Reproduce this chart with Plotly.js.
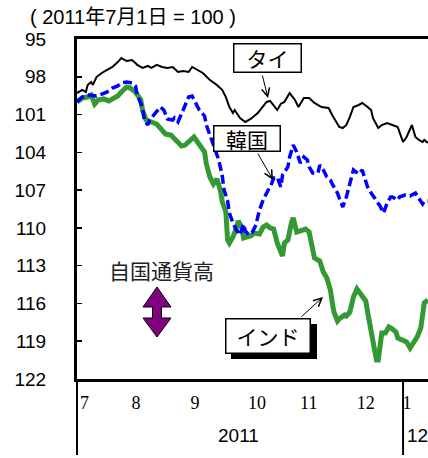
<!DOCTYPE html>
<html>
<head>
<meta charset="utf-8">
<script src="https://cdn.plot.ly/plotly-3.0.1.min.js"></script>
<style>html,body{margin:0;padding:0;overflow:hidden;background:#fff}#chart{width:428px;height:458px}</style>
</head>
<body>
<div id="chart"></div>
<script>
// ---- data (index, 2011-07-01 = 100) ----
const thaiDates = ['2011-07-01','2011-07-04','2011-07-06','2011-07-07','2011-07-09','2011-07-10','2011-07-12','2011-07-15','2011-07-18','2011-07-21','2011-07-24','2011-07-26','2011-07-29',
 '2011-08-01','2011-08-03','2011-08-04','2011-08-07','2011-08-10','2011-08-12','2011-08-15','2011-08-18','2011-08-21','2011-08-24','2011-08-27','2011-08-30',
 '2011-09-02','2011-09-04','2011-09-07','2011-09-10','2011-09-14','2011-09-18','2011-09-21','2011-09-23','2011-09-25','2011-09-27','2011-09-28',
 '2011-10-01','2011-10-04','2011-10-07','2011-10-11','2011-10-13','2011-10-16','2011-10-18','2011-10-20','2011-10-22','2011-10-24','2011-10-26','2011-10-29',
 '2011-11-01','2011-11-03','2011-11-06','2011-11-09','2011-11-12','2011-11-16','2011-11-20','2011-11-22','2011-11-25','2011-11-26','2011-11-28','2011-11-30',
 '2011-12-02','2011-12-04','2011-12-07','2011-12-09','2011-12-12','2011-12-14','2011-12-15','2011-12-18','2011-12-20','2011-12-23','2011-12-26','2011-12-29','2011-12-30',
 '2012-01-01','2012-01-03','2012-01-05','2012-01-06','2012-01-08','2012-01-10','2012-01-12','2012-01-13','2012-01-15'];
const thaiValues = [99.29,99.05,99.21,98.65,98.41,98.65,98.02,97.70,97.46,97.22,96.83,96.51,96.75,
 96.67,96.91,97.06,97.30,97.14,97.30,97.06,97.22,97.30,97.22,97.62,97.54,
 97.62,97.22,97.46,97.70,98.26,98.65,99.05,99.61,100.40,100.88,100.64,
 101.27,101.59,101.35,100.88,100.56,100.00,99.92,100.24,100.64,100.16,100.00,99.29,
 99.84,100.40,99.69,99.69,100.08,100.40,100.48,101.04,101.83,101.99,102.07,101.83,
 101.19,100.40,100.24,100.08,100.40,100.64,101.27,102.07,101.83,101.67,101.83,101.99,102.39,
 103.18,102.78,102.23,101.83,102.78,103.02,103.18,103.02,103.26];

const koreaDates = ['2011-07-01','2011-07-04','2011-07-07','2011-07-10','2011-07-12','2011-07-15','2011-07-18','2011-07-21','2011-07-24','2011-07-26','2011-07-29',
 '2011-08-01','2011-08-03','2011-08-04','2011-08-07','2011-08-08','2011-08-10','2011-08-11','2011-08-14','2011-08-17','2011-08-19','2011-08-21','2011-08-24','2011-08-25','2011-08-27','2011-08-29','2011-08-31',
 '2011-09-02','2011-09-04','2011-09-06','2011-09-08','2011-09-11','2011-09-12','2011-09-15','2011-09-17','2011-09-19','2011-09-21','2011-09-22','2011-09-24','2011-09-25','2011-09-27','2011-09-29',
 '2011-10-01','2011-10-03','2011-10-04','2011-10-06','2011-10-08','2011-10-10','2011-10-11','2011-10-12','2011-10-14','2011-10-17','2011-10-19','2011-10-20','2011-10-22','2011-10-24','2011-10-25','2011-10-28','2011-10-29','2011-10-31',
 '2011-11-02','2011-11-04','2011-11-06','2011-11-08','2011-11-09','2011-11-11','2011-11-14','2011-11-15','2011-11-17','2011-11-19','2011-11-21','2011-11-22','2011-11-25','2011-11-26','2011-11-28','2011-11-30',
 '2011-12-02','2011-12-04','2011-12-07','2011-12-09','2011-12-10','2011-12-12','2011-12-14','2011-12-17','2011-12-19','2011-12-21','2011-12-23','2011-12-25','2011-12-26','2011-12-29','2011-12-30',
 '2012-01-02','2012-01-05','2012-01-08','2012-01-10','2012-01-12','2012-01-13','2012-01-15'];
const koreaValues = [100.00,99.61,99.45,99.53,99.53,99.37,99.21,98.89,98.73,98.49,98.41,
 98.49,98.73,99.45,100.48,101.43,101.83,101.43,100.88,100.40,100.64,101.35,101.43,101.27,101.59,100.96,100.24,
 99.61,99.53,100.08,100.64,101.11,101.83,103.02,103.81,104.61,105.88,106.99,107.86,108.82,109.61,110.17,
 110.56,109.69,110.25,110.56,110.33,109.77,109.14,108.58,107.79,106.99,106.43,106.04,105.96,106.75,105.80,105.16,104.37,103.42,
 103.97,104.85,104.37,104.61,105.16,105.64,105.64,105.01,105.40,105.96,106.20,106.51,107.23,107.63,108.34,107.55,
 106.36,105.40,105.72,105.40,105.88,106.75,107.23,107.86,108.26,108.82,108.02,107.55,107.55,107.79,107.55,
 107.39,107.47,107.23,107.71,108.10,107.86,107.86];

const indiaDates = ['2011-07-01','2011-07-04','2011-07-07','2011-07-09','2011-07-11','2011-07-13','2011-07-16','2011-07-19','2011-07-21','2011-07-24','2011-07-26','2011-07-29','2011-07-31',
 '2011-08-03','2011-08-06','2011-08-07','2011-08-09','2011-08-12','2011-08-15','2011-08-18','2011-08-20','2011-08-23','2011-08-26','2011-08-29','2011-08-31',
 '2011-09-03','2011-09-05','2011-09-07','2011-09-09','2011-09-11','2011-09-12','2011-09-14','2011-09-16','2011-09-18','2011-09-20','2011-09-21','2011-09-23','2011-09-24','2011-09-25','2011-09-27','2011-09-29','2011-09-30',
 '2011-10-02','2011-10-03','2011-10-05','2011-10-07','2011-10-09','2011-10-12','2011-10-14','2011-10-16','2011-10-18','2011-10-20','2011-10-22','2011-10-24','2011-10-25','2011-10-26','2011-10-28','2011-10-30','2011-10-31',
 '2011-11-02','2011-11-04','2011-11-07','2011-11-09','2011-11-11','2011-11-12','2011-11-15','2011-11-17','2011-11-19','2011-11-21','2011-11-22','2011-11-23','2011-11-25','2011-11-26','2011-11-29','2011-11-30',
 '2011-12-02','2011-12-04','2011-12-06','2011-12-08','2011-12-11','2011-12-12','2011-12-14','2011-12-16','2011-12-17','2011-12-18','2011-12-20','2011-12-22','2011-12-24','2011-12-26','2011-12-28','2011-12-29',
 '2012-01-01','2012-01-03','2012-01-05','2012-01-07','2012-01-09','2012-01-11','2012-01-12','2012-01-13','2012-01-15'];
const indiaValues = [100.00,99.68,99.61,99.45,100.16,99.84,99.76,99.92,99.76,99.53,99.21,98.81,98.89,
 99.21,99.84,100.64,101.43,101.59,101.75,102.23,102.55,102.62,103.10,103.50,103.42,
 103.02,102.78,103.18,103.58,103.97,104.93,105.96,106.51,106.12,107.07,107.94,108.74,110.96,111.20,110.72,110.01,109.45,
 109.93,110.80,110.72,110.64,110.41,110.49,109.93,109.77,110.01,110.09,111.20,112.07,112.23,111.20,110.96,109.61,109.21,
 110.33,110.25,110.09,110.33,111.52,112.39,112.63,113.50,113.98,114.93,115.88,116.68,117.39,117.23,116.92,117.00,
 116.68,115.49,114.85,115.25,115.80,116.68,118.11,119.46,120.49,120.49,118.35,118.35,117.87,118.03,118.27,118.74,
 118.98,119.06,119.54,119.06,118.66,117.95,116.76,115.96,115.73];

const seriesNames = ['タイ', '韓国', 'インド'];
const yTicks = [95, 98, 101, 104, 107, 110, 113, 116, 119, 122];
const monthTickDates = ['2011-07-05 05:00','2011-08-03 07:00','2011-09-05 14:00','2011-10-10 14:00','2011-11-08 19:00','2011-12-10 22:00','2012-01-03 07:00'];
const monthTickText = ['7','8','9','10','11','12','1'];
const yearLabels = ['2011', '12'];
const titleText = '( 2011年7月1日 = 100 )';
const noteText = '自国通貨高';

// ---- layout helpers ----
const W = 428, H = 458, ML = 77, MT = 39, MB = 79, MR = 0;
const PW = W - ML - MR, PH = H - MT - MB;
const X = px => (px - ML) / PW;
const Y = py => (H - MB - py) / PH;
const xRange = ['2011-07-01', '2012-01-15 02:00'];
const t0 = new Date(xRange[0].replace(' ', 'T') + 'Z').getTime();
const t1 = new Date(xRange[1].replace(' ', 'T') + 'Z').getTime();
const fracOf = d => (new Date(d + 'T00:00:00Z').getTime() - t0) / (t1 - t0);

const SANS = '"Liberation Sans", Arial, sans-serif';
const SERIF = '"Liberation Serif", "Times New Roman", serif';
const CJK = '"Noto Sans CJK JP", sans-serif';

const traces = [
  {x: indiaDates, y: indiaValues, name: seriesNames[2], type: 'scatter', mode: 'lines',
   line: {color: '#339933', width: 5}},
  {x: koreaDates, y: koreaValues, name: seriesNames[1], type: 'scatter', mode: 'lines',
   line: {color: '#0000FF', width: 3.5, dash: '9px,4px'}},
  {x: thaiDates, y: thaiValues, name: seriesNames[0], type: 'scatter', mode: 'lines',
   line: {color: '#000000', width: 2}}
];

// double-headed arrow path (paper coordinates)
const arrPts = [[157,287],[143,307],[152.5,307],[152.5,318],[143,318],[157,337],[171,318],[161.5,318],[161.5,307],[171,307]];
const arrPath = 'M' + arrPts.map(p => X(p[0]).toFixed(4) + ',' + Y(p[1]).toFixed(4)).join('L') + 'Z';
const janFrac = fracOf('2012-01-01');

const shapes = [
  {type: 'line', xref: 'paper', yref: 'paper', x0: 0, x1: 0, y0: 0, y1: Y(455), line: {color: '#000', width: 2}},
  {type: 'line', xref: 'paper', yref: 'paper', x0: janFrac, x1: janFrac, y0: 0, y1: Y(455), line: {color: '#000', width: 2}},
  {type: 'rect', xref: 'paper', yref: 'paper', x0: X(231), x1: X(317), y0: Y(324), y1: Y(359), fillcolor: '#000', line: {width: 0}, layer: 'above'},
  {type: 'path', xref: 'paper', yref: 'paper', path: arrPath, fillcolor: '#800080', line: {color: '#000', width: 1}, layer: 'above'}
];

const boxAnn = (text, cx, cy, w, h) => ({
  xref: 'paper', yref: 'paper', x: X(cx), y: Y(cy), xanchor: 'center', yanchor: 'middle',
  text: text, showarrow: false, font: {family: CJK, size: 21, color: '#000'},
  bgcolor: '#fff', bordercolor: '#000', borderwidth: 1.5, borderpad: 0, width: w, height: h
});
const arrowAnn = (tx, ty, fx, fy) => ({
  xref: 'paper', yref: 'paper', x: X(tx), y: Y(ty), ax: fx - tx, ay: fy - ty,
  text: '', showarrow: true, arrowhead: 5, arrowsize: 1.6, arrowwidth: 1, arrowcolor: '#000', standoff: 0, startstandoff: 0
});

const annotations = [
  arrowAnn(268, 98, 262, 74),
  arrowAnn(273, 180, 257, 152),
  arrowAnn(323, 297, 300, 318),
  boxAnn(seriesNames[0], 267.5, 58, 66, 27),
  boxAnn(seriesNames[1], 247, 138.5, 65, 24),
  boxAnn(seriesNames[2], 268, 336, 83, 33),
  {xref: 'paper', yref: 'paper', x: X(161), y: Y(270), xanchor: 'center', yanchor: 'middle',
   text: noteText, showarrow: false, font: {family: CJK, size: 21, color: '#222'}},
  {xref: 'paper', yref: 'paper', x: X(133), y: Y(17), xanchor: 'center', yanchor: 'middle',
   text: titleText, showarrow: false, font: {family: SANS + ', ' + CJK, size: 20, color: '#000'}},
  {xref: 'x', yref: 'paper', x: '2011-09-30 10:00', y: Y(435), xanchor: 'center', yanchor: 'middle',
   text: yearLabels[0], showarrow: false, font: {family: SANS, size: 19, color: '#000'}},
  {xref: 'paper', yref: 'paper', x: janFrac, xshift: 2, y: Y(435), xanchor: 'left', yanchor: 'middle',
   text: yearLabels[1], showarrow: false, font: {family: SANS, size: 19, color: '#000'}}
];

const layout = {
  width: W, height: H,
  margin: {l: ML, r: MR, t: MT, b: MB, pad: 0},
  paper_bgcolor: '#fff', plot_bgcolor: '#fff',
  showlegend: false,
  xaxis: {type: 'date', range: xRange, showline: true, linewidth: 3, linecolor: '#000', mirror: true,
          ticks: '', showgrid: false, zeroline: false,
          tickmode: 'array', tickvals: monthTickDates, ticktext: monthTickText,
          tickfont: {family: SERIF, size: 18, color: '#000'}, ticklabelstandoff: 5},
  yaxis: {range: [122, 95], showline: true, linewidth: 3, linecolor: '#000', mirror: false,
          ticks: 'inside', ticklen: 5, tickwidth: 1.5, tickcolor: '#000',
          tickmode: 'array', tickvals: yTicks, ticktext: yTicks.map(String),
          showgrid: false, zeroline: false,
          tickfont: {family: SANS, size: 19, color: '#000'}, ticklabelstandoff: 24},
  shapes: shapes,
  annotations: annotations
};

Plotly.newPlot('chart', traces, layout, {staticPlot: true, displayModeBar: false});
</script>
</body>
</html>
